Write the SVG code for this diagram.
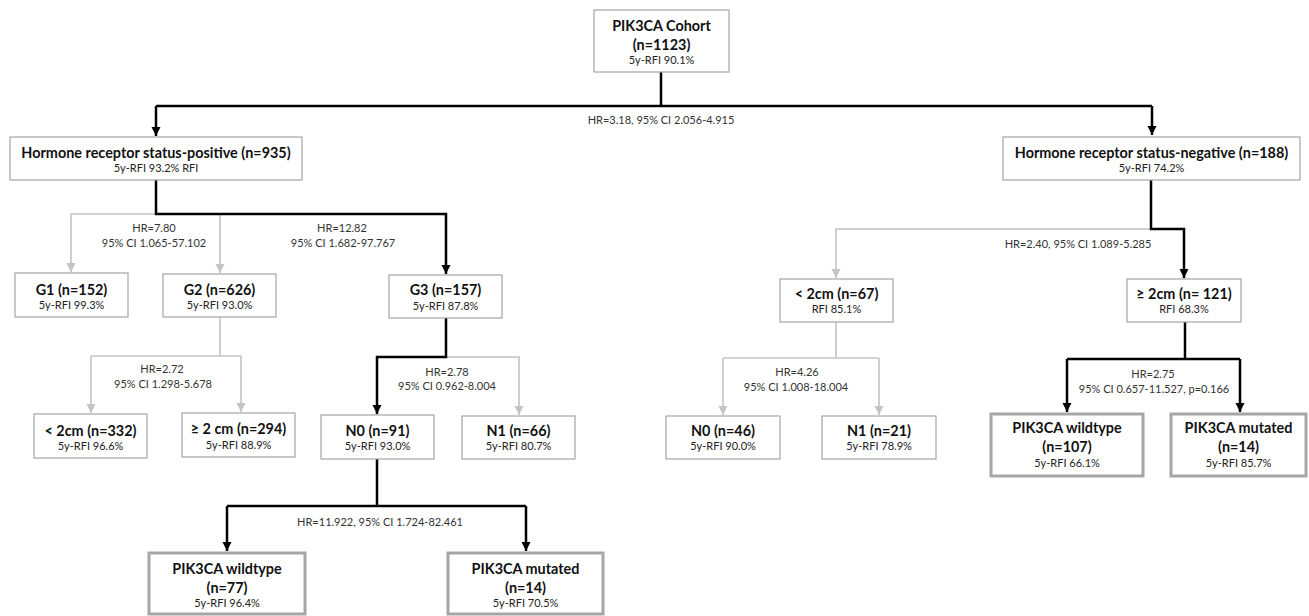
<svg xmlns="http://www.w3.org/2000/svg" width="1309" height="616" viewBox="0 0 1309 616">
<style>
.box{fill:#fff;stroke:#a6a6a6;stroke-width:1.2}
.thick{fill:#fff;stroke:#a6a6a6;stroke-width:3}
.t{font-family:Lato,"Liberation Sans",sans-serif;font-weight:bold;font-size:14.4px;fill:#111;text-anchor:middle}
.s{font-family:Lato,"Liberation Sans",sans-serif;font-size:11px;fill:#222;text-anchor:middle}
.l{font-family:Lato,"Liberation Sans",sans-serif;font-size:11px;fill:#333;text-anchor:middle}
.bk{fill:none;stroke:#000;stroke-width:2.5}
.gr{fill:none;stroke:#c4c4c4;stroke-width:1.6}
</style>
<defs>
<marker id="ab" markerUnits="userSpaceOnUse" markerWidth="10" markerHeight="10" refX="9" refY="5" orient="auto"><path d="M0,0.5 L9,5 L0,9.5 Z" fill="#000"/></marker>
<marker id="ag" markerUnits="userSpaceOnUse" markerWidth="10" markerHeight="10" refX="9" refY="5" orient="auto"><path d="M0,0.5 L9,5 L0,9.5 Z" fill="#c4c4c4"/></marker>
</defs>
<g id="connectors">
<path class="bk" d="M661,72 V106"/>
<path class="bk" d="M156,106 H1152"/>
<path class="bk" d="M156,106 V136" marker-end="url(#ab)"/>
<path class="bk" d="M1152,106 V135" marker-end="url(#ab)"/>
<path class="gr" d="M156,214 H71 V272" marker-end="url(#ag)"/>
<path class="gr" d="M220,214 V273" marker-end="url(#ag)"/>
<path class="bk" d="M156,180 V214 H446 V274" marker-end="url(#ab)"/>
<path class="gr" d="M220,317 V356"/>
<path class="gr" d="M91,356 H241"/>
<path class="gr" d="M91,356 V413" marker-end="url(#ag)"/>
<path class="gr" d="M241,356 V412" marker-end="url(#ag)"/>
<path class="gr" d="M446,357 H519 V415" marker-end="url(#ag)"/>
<path class="bk" d="M446,318 V357 H377 V414" marker-end="url(#ab)"/>
<path class="bk" d="M377,459 V506"/>
<path class="bk" d="M227,506 H526"/>
<path class="bk" d="M227,506 V551" marker-end="url(#ab)"/>
<path class="bk" d="M526,506 V551" marker-end="url(#ab)"/>
<path class="gr" d="M1151,229 H836 V278" marker-end="url(#ag)"/>
<path class="bk" d="M1151,180 V229 H1184 V278" marker-end="url(#ab)"/>
<path class="gr" d="M836,322 V358"/>
<path class="gr" d="M723,358 H879"/>
<path class="gr" d="M723,358 V415" marker-end="url(#ag)"/>
<path class="gr" d="M879,358 V415" marker-end="url(#ag)"/>
<path class="bk" d="M1185,322 V359"/>
<path class="bk" d="M1067,359 H1240"/>
<path class="bk" d="M1067,359 V412" marker-end="url(#ab)"/>
<path class="bk" d="M1240,359 V412" marker-end="url(#ab)"/>
<text class="l" x="661" y="124">HR=3.18, 95% CI 2.056-4.915</text>
<text class="l" x="154" y="232">HR=7.80</text>
<text class="l" x="154" y="247">95% CI 1.065-57.102</text>
<text class="l" x="342" y="232">HR=12.82</text>
<text class="l" x="343" y="247">95% CI 1.682-97.767</text>
<text class="l" x="162" y="373">HR=2.72</text>
<text class="l" x="163" y="388">95% CI 1.298-5.678</text>
<text class="l" x="447" y="376">HR=2.78</text>
<text class="l" x="447" y="390">95% CI 0.962-8.004</text>
<text class="l" x="380" y="526">HR=11.922, 95% CI 1.724-82.461</text>
<text class="l" x="1078" y="248">HR=2.40, 95% CI 1.089-5.285</text>
<text class="l" x="797" y="376">HR=4.26</text>
<text class="l" x="796" y="391">95% CI 1.008-18.004</text>
<text class="l" x="1153" y="378">HR=2.75</text>
<text class="l" x="1154" y="393">95% CI 0.657-11.527, p=0.166</text>
</g>
<g id="root"><rect class="box" x="594" y="10" width="135" height="62"/><text class="t" x="661.5" y="31">PIK3CA Cohort</text><text class="t" x="661.5" y="50">(n=1123)</text><text class="s" x="661.5" y="64">5y-RFI 90.1%</text></g>
<g id="hr-pos"><rect class="box" x="10" y="137" width="292" height="43"/><text class="t" x="156" y="158">Hormone receptor status-positive (n=935)</text><text class="s" x="156" y="172">5y-RFI 93.2% RFI</text></g>
<g id="hr-neg"><rect class="box" x="1003" y="137" width="297" height="43"/><text class="t" x="1151.5" y="158">Hormone receptor status-negative (n=188)</text><text class="s" x="1151.5" y="172">5y-RFI 74.2%</text></g>
<g id="g1"><rect class="box" x="15" y="273" width="113" height="44"/><text class="t" x="71.5" y="294.5">G1 (n=152)</text><text class="s" x="71.5" y="309">5y-RFI 99.3%</text></g>
<g id="g2"><rect class="box" x="163" y="274" width="113" height="43"/><text class="t" x="219.5" y="294.5">G2 (n=626)</text><text class="s" x="219.5" y="309">5y-RFI 93.0%</text></g>
<g id="g3"><rect class="box" x="389" y="275" width="113" height="43"/><text class="t" x="445.5" y="294.5">G3 (n=157)</text><text class="s" x="445.5" y="310">5y-RFI 87.8%</text></g>
<g id="lt2-332"><rect class="box" x="34" y="414" width="113" height="44"/><text class="t" x="90.5" y="435.5">&lt; 2cm (n=332)</text><text class="s" x="90.5" y="450">5y-RFI 96.6%</text></g>
<g id="ge2-294"><rect class="box" x="182" y="413" width="113" height="44"/><text class="t" x="238.5" y="433.5">≥ 2 cm (n=294)</text><text class="s" x="238.5" y="449">5y-RFI 88.9%</text></g>
<g id="n0-91"><rect class="box" x="321" y="415" width="113" height="44"/><text class="t" x="377.5" y="435.5">N0 (n=91)</text><text class="s" x="377.5" y="450">5y-RFI 93.0%</text></g>
<g id="n1-66"><rect class="box" x="462" y="416" width="113" height="43"/><text class="t" x="518.5" y="436">N1 (n=66)</text><text class="s" x="518.5" y="450">5y-RFI 80.7%</text></g>
<g id="wt-77"><rect class="thick" x="149" y="553" width="156" height="61"/><text class="t" x="227" y="574">PIK3CA wildtype</text><text class="t" x="227" y="593">(n=77)</text><text class="s" x="227" y="607">5y-RFI 96.4%</text></g>
<g id="mut-14a"><rect class="thick" x="448" y="553" width="155" height="61"/><text class="t" x="525.5" y="574">PIK3CA mutated</text><text class="t" x="525.5" y="593">(n=14)</text><text class="s" x="525.5" y="607">5y-RFI 70.5%</text></g>
<g id="lt2-67"><rect class="box" x="780" y="279" width="113" height="43"/><text class="t" x="836.5" y="299">&lt; 2cm (n=67)</text><text class="s" x="836.5" y="313">RFI 85.1%</text></g>
<g id="ge2-121"><rect class="box" x="1127" y="279" width="114" height="43"/><text class="t" x="1184" y="299">≥ 2cm (n= 121)</text><text class="s" x="1184" y="313">RFI 68.3%</text></g>
<g id="n0-46"><rect class="box" x="666" y="416" width="114" height="43"/><text class="t" x="723" y="436">N0 (n=46)</text><text class="s" x="723" y="450">5y-RFI 90.0%</text></g>
<g id="n1-21"><rect class="box" x="822" y="416" width="114" height="43"/><text class="t" x="879" y="436">N1 (n=21)</text><text class="s" x="879" y="450">5y-RFI 78.9%</text></g>
<g id="wt-107"><rect class="thick" x="991" y="414" width="152" height="62"/><text class="t" x="1067" y="433">PIK3CA wildtype</text><text class="t" x="1067" y="452">(n=107)</text><text class="s" x="1067" y="467">5y-RFI 66.1%</text></g>
<g id="mut-14b"><rect class="thick" x="1171" y="414" width="135" height="62"/><text class="t" x="1238.5" y="433">PIK3CA mutated</text><text class="t" x="1238.5" y="452">(n=14)</text><text class="s" x="1238.5" y="467">5y-RFI 85.7%</text></g>
</svg>
